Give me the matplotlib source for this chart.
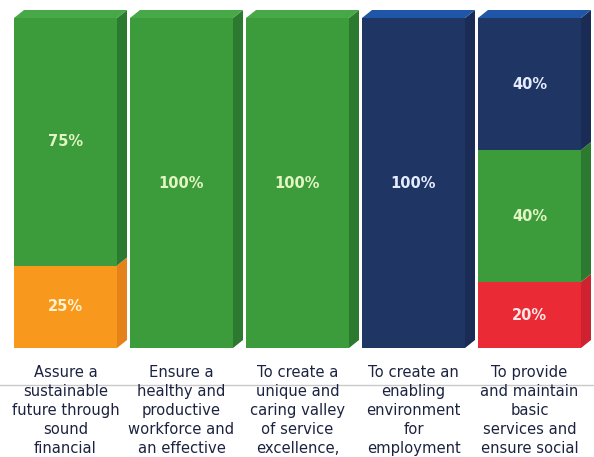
import matplotlib
matplotlib.use("Agg")
import matplotlib.pyplot as plt
from matplotlib.patches import Polygon
from matplotlib.lines import Line2D
import numpy as np

# ---- data ----
categories = [
    "Assure a\nsustainable\nfuture through\nsound\nfinancial",
    "Ensure a\nhealthy and\nproductive\nworkforce and\nan effective",
    "To create a\nunique and\ncaring valley\nof service\nexcellence,",
    "To create an\nenabling\nenvironment\nfor\nemployment",
    "To provide\nand maintain\nbasic\nservices and\nensure social",
]
# stacked segments, bottom to top (percent)
seg_red = [0, 0, 0, 0, 20]
seg_orange = [25, 0, 0, 0, 0]
seg_green = [75, 100, 100, 0, 40]
seg_blue = [0, 0, 0, 100, 40]

series = [
    ("red", seg_red),
    ("orange", seg_orange),
    ("green", seg_green),
    ("blue", seg_blue),
]

front = {"red": "#ea2a35", "orange": "#f8991d", "green": "#3c9c3c", "blue": "#1f3563"}
side = {"red": "#cf2230", "orange": "#e5831a", "green": "#2c7a30", "blue": "#1a2c55"}
top = {"red": "#f0464f", "orange": "#fbb040", "green": "#47a847", "blue": "#1f56a8"}
txtc = {"red": "#ffe6e6", "orange": "#fff2cc", "green": "#e2f5c2", "blue": "#e6ecff"}

W, H = 594, 457
fig = plt.figure(figsize=(W / 100, H / 100), dpi=100)
fig.patch.set_facecolor("white")

# axes: front faces from y=18px (top) to 348px (bottom)
ax = fig.add_axes([0, (H - 348) / H, 1, (348 - 18) / H])
pitch = 116.0
x0px = 65.5
ax.set_xlim(-x0px / pitch, (W - x0px) / pitch)
ax.set_ylim(0, 100)
ax.axis("off")

bw = 103 / pitch
dx = 10 / pitch
dy = 8 / 330 * 100

x = np.arange(len(categories))
bottoms = np.zeros(len(categories))
for name, vals in series:
    vals = np.array(vals, dtype=float)
    ax.bar(x, vals, bw, bottom=bottoms, color=front[name], linewidth=0, zorder=2)
    for i, v in enumerate(vals):
        if v <= 0:
            continue
        b, t = bottoms[i], bottoms[i] + v
        xl, xr = x[i] - bw / 2, x[i] + bw / 2
        ax.add_patch(Polygon([(xr, b), (xr + dx, b + dy), (xr + dx, t + dy), (xr, t)],
                             closed=True, facecolor=side[name], edgecolor="none",
                             zorder=1, clip_on=False))
        if abs(t - 100) < 1e-6:
            ax.add_patch(Polygon([(xl, t), (xl + dx, t + dy), (xr + dx, t + dy), (xr, t)],
                                 closed=True, facecolor=top[name], edgecolor="none",
                                 zorder=3, clip_on=False))
        ax.text(x[i], (b + t) / 2, f"{int(v)}%", ha="center", va="center",
                color=txtc[name], fontsize=10.5, fontweight="bold", zorder=4)
    bottoms = bottoms + vals

# separator line under category labels
fig.add_artist(Line2D([0, 1], [(H - 385) / H, (H - 385) / H], color="#c9c9c9",
                      lw=1.0, transform=fig.transFigure, zorder=0))

# category labels
for i, lab in enumerate(categories):
    xf = (x0px + pitch * i) / W
    fig.text(xf, (H - 365) / H, lab, ha="center", va="top", fontsize=10.6,
             color="#1c2340", linespacing=1.33, zorder=5)

fig.savefig("out.png", dpi=100, facecolor="white")
